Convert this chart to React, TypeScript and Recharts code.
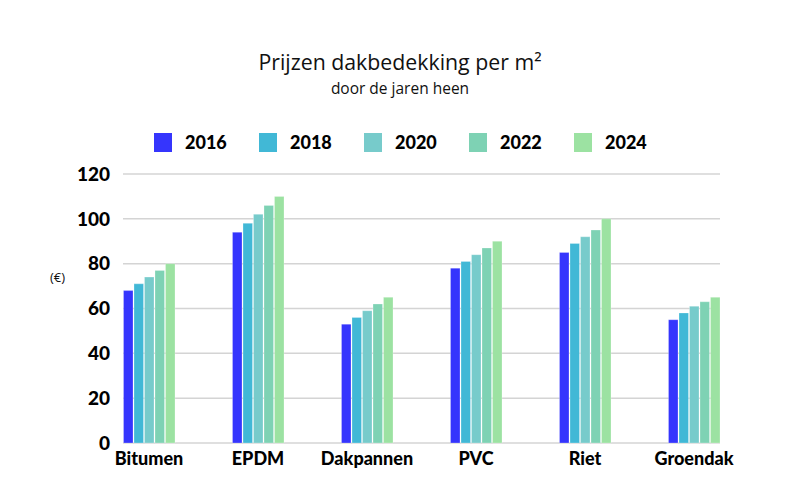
import { Bar, BarChart, CartesianGrid, XAxis, YAxis } from "recharts";

const categories = ["Bitumen", "EPDM", "Dakpannen", "PVC", "Riet", "Groendak"];
const years = ["2016", "2018", "2020", "2022", "2024"];
const colors = ["#3535fd", "#41b8d6", "#77cbcb", "#7ed2b4", "#9ce2a2"];

const prices2016 = [68, 94, 53, 78, 85, 55];
const prices2018 = [71, 98, 56, 81, 89, 58];
const prices2020 = [74, 102, 59, 84, 92, 61];
const prices2022 = [77, 106, 62, 87, 95, 63];
const prices2024 = [80, 110, 65, 90, 100, 65];

const yTicks = [0, 20, 40, 60, 80, 100, 120];

const series = [prices2016, prices2018, prices2020, prices2022, prices2024];

const data = categories.map((name, i) => {
  const row: Record<string, string | number> = { name };
  years.forEach((y, s) => {
    row[y] = series[s][i];
  });
  return row;
});

const boldFont = "Lato, 'Noto Sans', sans-serif";
const textFont = "'Open Sans', 'Noto Sans', sans-serif";

export default function App() {
  return (
    <div
      style={{
        position: "absolute",
        left: 0,
        top: 0,
        width: 800,
        height: 500,
        background: "#fff",
      }}
    >
      <div
        style={{
          position: "absolute",
          top: 47,
          width: 800,
          textAlign: "center",
          fontFamily: textFont,
          fontSize: 21.3,
          color: "#111",
        }}
      >
        Prijzen dakbedekking per m²
      </div>
      <div
        style={{
          position: "absolute",
          top: 77,
          width: 800,
          textAlign: "center",
          fontFamily: textFont,
          fontSize: 15.5,
          color: "#111",
        }}
      >
        door de jaren heen
      </div>

      <div
        style={{
          position: "absolute",
          top: 131,
          left: 154,
          display: "flex",
          fontFamily: boldFont,
          fontWeight: 900,
          fontSize: 18,
          color: "#000",
        }}
      >
        {years.map((y, i) => (
          <div key={y} style={{ display: "flex", alignItems: "center", width: 105 }}>
            <span
              style={{
                display: "inline-block",
                width: 18,
                height: 19,
                background: colors[i],
                marginRight: 13,
              }}
            />
            <span>{y}</span>
          </div>
        ))}
      </div>

      <div
        style={{
          position: "absolute",
          top: 268,
          left: 50,
          fontFamily: textFont,
          fontSize: 13,
          color: "#111",
        }}
      >
        (€)
      </div>

      <div style={{ position: "absolute", left: 0, top: 0 }}>
        <BarChart
          width={800}
          height={500}
          data={data}
          margin={{ top: 174, right: 80, bottom: 27, left: 0 }}
          barGap={1}
          barSize={9.5}
        >
          <CartesianGrid stroke="#d4d4d4" strokeWidth={1.5} vertical={false} />
          <XAxis
            dataKey="name"
            height={30}
            axisLine={false}
            tickLine={false}
            tickSize={0}
            tickMargin={9}
            padding={{ left: -28.5, right: -28.5 }}
            interval={0}
            tick={{ fill: "#000", fontFamily: boldFont, fontWeight: 900, fontSize: 18 }}
          />
          <YAxis
            width={123}
            domain={[0, 120]}
            ticks={yTicks}
            axisLine={false}
            tickLine={false}
            tickSize={0}
            tickMargin={13}
            tick={{ fill: "#000", fontFamily: boldFont, fontWeight: 900, fontSize: 19 }}
          />
          {years.map((y, i) => (
            <Bar
              key={y}
              dataKey={y}
              fill={colors[i]}
              stroke="#ffffff"
              strokeOpacity={0.5}
              strokeWidth={0.5}
              isAnimationActive={false}
            />
          ))}
        </BarChart>
      </div>
    </div>
  );
}
